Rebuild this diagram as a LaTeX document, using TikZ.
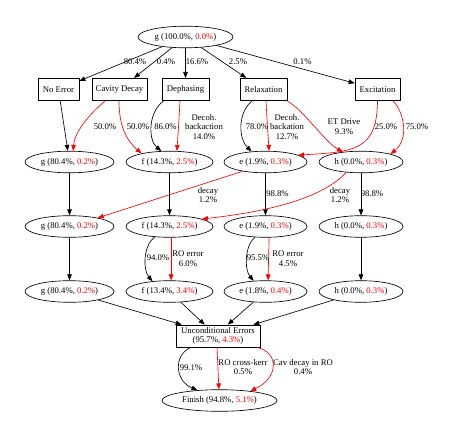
\documentclass[tikz,border=0pt]{standalone}
\usepackage{fontspec}
\setmainfont{Liberation Serif}
\usetikzlibrary{arrows.meta,shapes.geometric,calc}
\newcommand{\redtxt}[1]{\textcolor{red}{#1}}
\begin{document}
\begin{tikzpicture}[x=1pt,y=-1pt,
  every node/.style={font=\fontsize{8.7}{9.7}\selectfont},
  ell/.style={draw, ellipse, minimum height=21.6pt, inner sep=0pt, line width=0.65pt},
  box/.style={draw, rectangle, minimum height=22.5pt, inner sep=1pt, line width=0.65pt},
  blk/.style={draw=black, line width=0.65pt, -{Triangle[length=6pt,width=4.6pt]}},
  rd/.style={draw=red, line width=0.65pt, -{Triangle[length=6pt,width=4.6pt]}},
  lab/.style={align=center, inner sep=0pt}]
\useasboundingbox[fill=white] (0,0) rectangle (454,436);

% nodes
\node[ell, minimum width=95pt] (top) at (185.5,37) {g (100.0\%, \redtxt{0.0\%})};

\node[box, minimum width=41pt] (noerr) at (58.5,89.5) {No Error};
\node[box, minimum width=55pt] (cav) at (119.5,89.5) {Cavity Decay};
\node[box, minimum width=47pt] (deph) at (185.5,89.5) {Dephasing};
\node[box, minimum width=47pt] (relax) at (263.5,89.5) {Relaxation};
\node[box, minimum width=45pt] (excit) at (377.5,89.5) {Excitation};

\node[ell, minimum width=89pt] (g2) at (69.5,162) {g (80.4\%, \redtxt{0.2\%})};
\node[ell, minimum width=87pt] (f2) at (169.5,162) {f (14.3\%, \redtxt{2.5\%})};
\node[ell, minimum width=83pt] (e2) at (265.5,162) {e (1.9\%, \redtxt{0.3\%})};
\node[ell, minimum width=84pt] (h2) at (361,162) {h (0.0\%, \redtxt{0.3\%})};

\node[ell, minimum width=89pt] (g3) at (69.5,226.5) {g (80.4\%, \redtxt{0.2\%})};
\node[ell, minimum width=87pt] (f3) at (169.5,226.5) {f (14.3\%, \redtxt{2.5\%})};
\node[ell, minimum width=83pt] (e3) at (265.5,226.5) {e (1.9\%, \redtxt{0.3\%})};
\node[ell, minimum width=84pt] (h3) at (361,226.5) {h (0.0\%, \redtxt{0.3\%})};

\node[ell, minimum width=89pt] (g4) at (69.5,291.5) {g (80.4\%, \redtxt{0.2\%})};
\node[ell, minimum width=87pt] (f4) at (169.5,291.5) {f (13.4\%, \redtxt{3.4\%})};
\node[ell, minimum width=83pt] (e4) at (265.5,291.5) {e (1.8\%, \redtxt{0.4\%})};
\node[ell, minimum width=84pt] (h4) at (361,291.5) {h (0.0\%, \redtxt{0.3\%})};

\node[box, minimum width=84pt, align=center, minimum height=22pt, inner sep=0pt] (unc) at (218,336) {Unconditional Errors\\(95.7\%, \redtxt{4.3\%})};
\node[ell, minimum width=115pt] (fin) at (219.5,400.5) {Finish (94.8\%, \redtxt{5.1\%})};

% top edges
\draw[blk] (top) -- (noerr);
\draw[blk] (top) -- (cav);
\draw[blk] (top) -- (deph);
\draw[blk] (top) -- (relax);
\draw[blk] (top) -- (excit);
\node[lab] (l1) at (135,62) {80.4\%};
\node[lab] (l2) at (166,62) {0.4\%};
\node[lab] (l3) at (197,62) {16.6\%};
\node[lab] (l4) at (238,62) {2.5\%};
\node[lab] (l5) at (302.5,62) {0.1\%};

% row1 -> row2
\draw[blk] (noerr) -- (g2);
\draw[rd] ([xshift=-14.5pt]cav.south) .. controls (92,112) and (75,130) .. (g2.72);
\draw[rd] ([xshift=-0.5pt]cav.south) .. controls (119,125) and (126,140) .. (f2.163);
\draw[blk] ([xshift=-22pt]deph.south) .. controls (148,112) and (148,140) .. (f2.127);
\draw[rd] ([xshift=-5.5pt]deph.south) .. controls (179,120) and (178,135) .. (f2.56);
\draw[blk] ([xshift=-11.5pt]relax.south) .. controls (238,112) and (238,138) .. (e2.143);
\draw[rd] ([xshift=2.5pt]relax.south) .. controls (267,120) and (268,135) .. (e2.72);
\draw[rd] (relax.south east) .. controls (303,109.5) and (325,142) .. (h2.151);
\draw[rd] (excit.south) .. controls (377,150) and (355,152) .. (e2.12);
\draw[rd] ([xshift=15.5pt]excit.south) .. controls (403,110) and (410,138) .. (h2.15);
\node[lab] (l6) at (105,127) {50.0\%};
\node[lab] (l7) at (138,127) {50.0\%};
\node[lab] (l8) at (165.5,127) {86.0\%};
\node[lab] (l9) at (204,127) {Decoh.\\backaction\\14.0\%};
\node[lab] (l10) at (257,127) {78.0\%};
\node[lab] (l11) at (287,127) {Decoh.\\backation\\12.7\%};
\node[lab] (l12) at (344,127) {ET Drive\\9.3\%};
\node[lab] (l13) at (386,127) {25.0\%};
\node[lab] (l14) at (417,127) {75.0\%};

% row2 -> row3
\draw[blk] (g2) -- (g3);
\draw[blk] (f2) -- (f3);
\draw[blk] (e2) -- (e3);
\draw[blk] (h2) -- (h3);
\draw[rd] (e2.-158) -- (g3.17);
\draw[rd] (h2.-145) .. controls (322,199) and (265,212) .. (f3.13);
\node[lab] (l15) at (208,195) {decay\\1.2\%};
\node[lab] (l16) at (277.5,194) {98.8\%};
\node[lab] (l17) at (340,195) {decay\\1.2\%};
\node[lab] (l18) at (372,194) {98.8\%};

% row3 -> row4
\draw[blk] (g3) -- (g4);
\draw[blk] (f3.-145) .. controls (143,246) and (143,270) .. (f4.149);
\draw[rd] (f3.-82) -- (f4.82);
\draw[blk] (e3.-135) .. controls (244.5,246) and (244.5,270) .. (e4.138);
\draw[rd] (e3.-72) -- (e4.77);
\draw[blk] (h3) -- (h4);
\node[lab] (l19) at (158,258) {94.0\%};
\node[lab] (l20) at (188,258.5) {RO error\\6.0\%};
\node[lab] (l21) at (258,258) {95.5\%};
\node[lab] (l22) at (288,258.5) {RO error\\4.5\%};

% row4 -> unconditional
\draw[blk] (g4) -- ([xshift=6pt]unc.north west);
\draw[blk] (f4) -- ([xshift=29pt]unc.north west);
\draw[blk] (e4) -- ([xshift=52pt]unc.north west);
\draw[blk] (h4) -- ([xshift=-7pt]unc.north east);

% unconditional -> finish
\draw[blk] ([xshift=-27pt]unc.south) .. controls (173,355) and (175,381) .. (fin.155);
\draw[rd] ([xshift=-1pt]unc.south) -- (fin.93);
\draw[rd] ([xshift=39pt]unc.south) .. controls (280,353) and (278,378) .. (fin.17);
\node[lab] (l23) at (191,368) {99.1\%};
\node[lab] (l24) at (243,367) {RO cross-kerr\\0.5\%};
\node[lab] (l25) at (303,367) {Cav decay in RO\\0.4\%};
\end{tikzpicture}
\end{document}
